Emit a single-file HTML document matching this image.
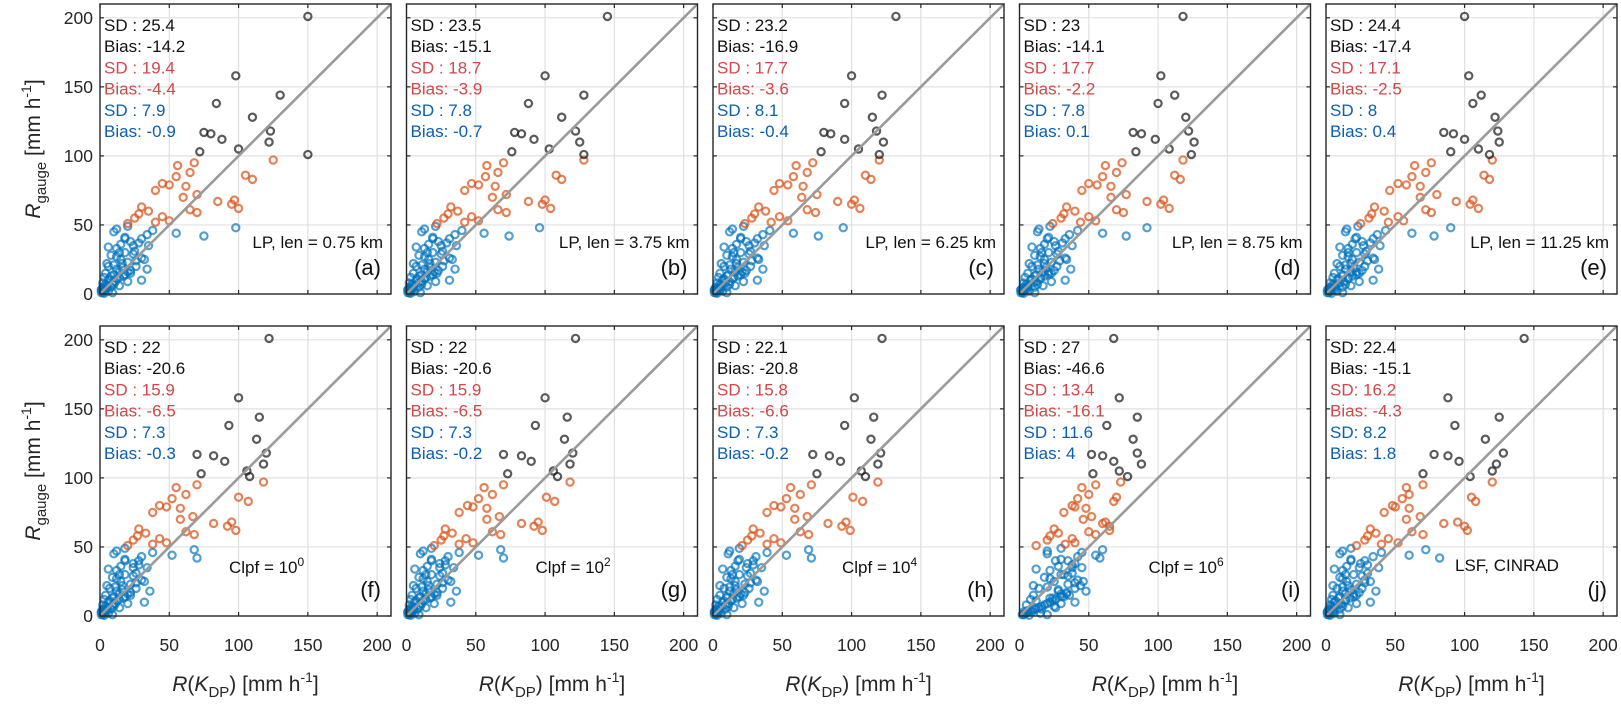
<!DOCTYPE html>
<html><head><meta charset="utf-8">
<style>
html,body{margin:0;padding:0;background:#fff;}
svg{display:block;font-family:"Liberation Sans",Arial,sans-serif;}
</style></head>
<body>
<svg id="fig" width="1621" height="705" viewBox="0 0 1621 705" xmlns="http://www.w3.org/2000/svg"></svg>
<script>
// ===== data =====
const tickValues = [0, 50, 100, 150, 200];
const panelLabels = ['(a)','(b)','(c)','(d)','(e)','(f)','(g)','(h)','(i)','(j)'];
const gaugeBlack = [201,158,144,138,128,117,116,112,110,105,103,101,118];
const gaugeOrange = [97,95,93,88,86,85,83,80,79,78,75,72,70,68,67,65,63,61,60,59,58,56,55,53,52,51,62];
const gaugeBlue = [49,48,46,44,42,40,38,36,35,33,31,30,28,26,25,23,21,20,18,16,15,13,12,10,8,7,5,4,3,2,45,41,37,34,29,27,24,22,19,17,14,11,9,6,5,3,2,1,1,0.5];
const gaugeBlueExtra = [4,6,8,10,12,14,16,18,20,22,3,5,7,9,11,13,2,1,15,25,30,35,40,43,47];

const xBlack = [
 [150,98,130,84,110,75,80,88,122,100,72,150,123],
 [145,100,128,88,112,78,83,92,125,103,76,128,122],
 [132,100,122,95,115,80,85,95,123,105,78,120,118],
 [118,102,112,100,120,82,88,98,126,108,84,124,122],
 [100,103,112,106,122,85,92,100,125,110,90,118,124],
 [122,100,115,93,113,70,82,90,118,106,73,108,120],
 [122,100,116,93,114,70,83,90,118,106,73,109,120],
 [122,102,116,95,114,72,84,92,119,107,75,110,121],
 [68,72,85,63,82,52,60,68,88,72,53,78,85],
 [143,88,125,93,115,78,88,96,123,120,70,104,128]
];
const xOrange = [
 [125,68,56,65,105,55,110,45,50,62,40,70,60,97,85,95,30,65,35,70,28,45,25,50,40,20,100],
 [128,70,58,66,108,57,112,47,52,64,42,72,62,100,88,98,32,66,37,72,30,47,27,52,42,22,104],
 [120,72,60,68,110,58,114,48,54,65,44,75,64,102,90,100,33,68,38,74,30,48,28,54,42,23,106],
 [118,74,62,70,112,60,116,50,56,66,45,77,66,104,92,102,34,70,40,75,32,50,30,55,44,24,108],
 [120,76,64,72,114,62,118,52,58,68,46,80,68,106,94,104,35,72,42,76,33,52,31,56,45,25,110],
 [118,70,55,62,100,52,107,43,48,58,38,67,58,95,82,92,28,62,33,68,27,43,24,48,38,20,98],
 [118,70,56,62,101,52,107,44,48,58,38,67,58,95,83,92,28,62,33,68,27,43,25,48,38,20,98],
 [119,71,56,63,101,53,108,44,49,59,39,68,59,96,83,93,29,63,34,69,28,44,25,49,39,21,99],
 [73,55,45,50,70,42,68,38,40,48,32,52,46,62,60,65,25,50,28,55,22,38,20,40,33,12,65],
 [120,70,58,60,105,55,108,48,50,60,42,68,58,95,85,100,32,62,36,70,30,45,28,52,40,22,102]
];
const xBlue = [
 [20,98,38,55,75,30,22,15,35,12,25,18,8,30,15,20,10,6,34,14,4,8,3,30,2,10,5,2,1,6,10,18,28,6,24,12,26,5,16,22,18,12,20,14,8,4,2,9,1,3],
 [21,96,40,56,74,31,23,16,36,13,26,19,9,31,16,21,11,7,35,15,5,9,3,31,2,11,5,2,1,6,11,19,29,7,25,13,27,5,17,23,19,13,21,15,9,4,2,10,1,3],
 [22,94,41,58,76,32,24,17,37,14,27,20,10,32,17,22,12,8,36,16,5,10,4,32,3,12,6,3,1,7,12,20,30,8,26,14,28,6,18,24,20,14,22,16,10,5,2,10,1,3],
 [22,92,42,60,77,33,25,18,38,15,28,21,11,33,18,23,13,9,37,17,6,11,4,33,3,13,6,3,1,7,13,21,31,9,27,15,29,7,19,25,21,15,23,17,11,5,2,11,1,3],
 [23,90,43,62,78,34,26,19,39,16,29,22,12,34,19,24,14,10,38,18,6,12,5,34,3,14,7,3,1,8,14,22,32,10,28,16,30,8,20,26,22,16,24,18,12,6,3,12,1,4],
 [18,68,38,52,70,28,24,15,34,12,26,18,9,30,15,22,11,7,36,14,4,9,3,32,2,10,5,2,1,6,10,18,28,6,24,12,26,5,16,22,18,12,20,14,8,4,2,9,1,3],
 [18,68,38,52,70,28,24,15,34,12,26,18,9,30,15,22,11,7,36,14,4,9,3,32,2,10,5,2,1,6,10,18,28,6,24,12,26,5,16,22,18,12,20,14,8,4,2,9,1,3],
 [19,69,39,53,71,29,25,16,35,13,27,19,10,31,16,23,12,8,37,15,5,10,3,33,2,11,5,2,1,6,11,19,29,7,25,13,27,5,17,23,19,13,21,15,9,4,2,10,1,3],
 [30,60,45,55,58,35,40,28,45,22,38,30,18,42,25,35,20,14,48,30,10,22,8,40,5,25,12,6,3,15,20,30,38,12,35,22,40,10,28,34,32,24,30,26,16,9,5,20,2,7],
 [18,72,40,60,82,28,25,15,38,12,30,20,10,28,15,22,12,8,36,14,5,9,4,32,3,12,6,3,1,6,10,18,30,6,26,12,28,5,18,24,20,14,22,16,10,5,2,10,1,3]
];
const xBlueExtra = [
 [3,5,9,6,14,10,20,12,26,16,1,2,4,11,7,17,3,2,22,32,14,24,18,34,12],
 [3,5,9,7,14,11,20,13,26,17,1,2,4,11,8,17,3,2,22,33,15,25,19,35,13],
 [4,6,9,7,15,11,21,13,27,17,1,2,5,12,8,18,3,2,23,33,15,26,20,36,14],
 [4,6,10,8,15,12,21,14,27,18,1,3,5,12,9,18,3,2,23,34,16,26,20,36,14],
 [4,6,10,8,16,12,22,14,28,18,2,3,5,13,9,19,3,2,24,35,16,27,21,37,15],
 [3,5,9,6,14,10,20,12,26,16,1,2,4,11,7,17,3,2,22,32,14,24,18,30,12],
 [3,5,9,6,14,10,20,12,26,16,1,2,4,11,7,17,3,2,22,32,14,24,18,30,12],
 [3,5,9,7,14,10,20,12,26,16,1,2,4,11,8,17,3,2,22,32,14,24,18,31,12],
 [8,14,18,22,26,30,34,28,40,44,6,10,16,20,12,24,4,3,36,46,32,38,26,42,20],
 [3,5,9,6,14,10,20,12,26,16,1,2,4,11,7,17,3,2,22,32,14,24,18,34,12]
];
const statsSD = [
 ['25.4','19.4','7.9'],['23.5','18.7','7.8'],['23.2','17.7','8.1'],['23','17.7','7.8'],['24.4','17.1','8'],
 ['22','15.9','7.3'],['22','15.9','7.3'],['22.1','15.8','7.3'],['27','13.4','11.6'],['22.4','16.2','8.2']
];
const statsBias = [
 ['-14.2','-4.4','-0.9'],['-15.1','-3.9','-0.7'],['-16.9','-3.6','-0.4'],['-14.1','-2.2','0.1'],['-17.4','-2.5','0.4'],
 ['-20.6','-6.5','-0.3'],['-20.6','-6.5','-0.2'],['-20.8','-6.6','-0.2'],['-46.6','-16.1','4'],['-15.1','-4.3','1.8']
];
const methodText = ['LP, len = 0.75 km','LP, len = 3.75 km','LP, len = 6.25 km','LP, len = 8.75 km','LP, len = 11.25 km'];
const clpfExp = ['0','2','4','6'];

// ===== layout =====
const NS = 'http://www.w3.org/2000/svg';
const svg = document.getElementById('fig');
const lefts = [100, 406.5, 713, 1019.5, 1326];
const tops = [4, 326];
const W = 291, H = 290, MAXV = 210;
function mk(tag, attrs, parent) {
  const e = document.createElementNS(NS, tag);
  for (const k in attrs) e.setAttribute(k, attrs[k]);
  (parent || svg).appendChild(e);
  return e;
}
const statColors = ['#111111', '#d1474a', '#0b5fb0'];
const ptColors = ['rgba(35,35,35,0.75)', 'rgba(217,83,25,0.72)', 'rgba(0,114,189,0.68)'];

for (let p = 0; p < 10; p++) {
  const row = Math.floor(p / 5), col = p % 5;
  const L = lefts[col], T = tops[row];
  const sx = v => L + v / MAXV * W;
  const sy = v => T + H - v / MAXV * H;
  const g = mk('g', {});
  
  

  tickValues.forEach(t => {
    if (t === 0) return;
    const gx = mk('line', {x1: sx(t), x2: sx(t), y1: T, y2: T + H, stroke: '#e0e0e0', 'stroke-width': 1.2}, g);
    
    
    const gy = mk('line', {x1: L, x2: L + W, y1: sy(t), y2: sy(t), stroke: '#e0e0e0', 'stroke-width': 1.2}, g);
    
    
  });

  const sets = [[xBlueExtra[p], gaugeBlueExtra, 2], [xBlue[p], gaugeBlue, 2], [xOrange[p], gaugeOrange, 1], [xBlack[p], gaugeBlack, 0]];
  sets.forEach(([xs, ys, ci]) => {
    xs.forEach((xv, i) => {
      const c = mk('circle', {cx: sx(xv), cy: sy(ys[i]), r: 3.6, fill: 'none', stroke: ptColors[ci], 'stroke-width': 2.2}, g);
      
      
    });
  });

  const d = mk('line', {x1: sx(0), y1: sy(0), x2: sx(MAXV), y2: sy(MAXV), stroke: '#9a9a9a', 'stroke-width': 2.6}, g);
  
  

  const b = mk('rect', {x: L, y: T, width: W, height: H, fill: 'none', stroke: '#262626', 'stroke-width': 1.4}, g);
  
  

  tickValues.forEach(t => {
    const segs = [[sx(t), T + H, sx(t), T + H - 4], [sx(t), T, sx(t), T + 4], [L, sy(t), L + 4, sy(t)], [L + W, sy(t), L + W - 4, sy(t)]];
    segs.forEach(s => {
      const tk = mk('line', {x1: s[0], y1: s[1], x2: s[2], y2: s[3], stroke: '#262626', 'stroke-width': 1.2}, g);
      
      
    });
    if (col === 0) {
      const yl = mk('text', {x: L - 7, y: sy(t) + 6, 'text-anchor': 'end', 'font-size': 17.5, fill: '#262626'}, g);
      yl.textContent = t;
      
      
    }
    if (row === 1) {
      const xl = mk('text', {x: sx(t), y: T + H + 35, 'text-anchor': 'middle', 'font-size': 17.5, fill: '#262626'}, g);
      xl.textContent = t;
      
      
    }
  });

  const sep = p === 9 ? ': ' : ' : ';
  for (let k = 0; k < 3; k++) {
    const t1 = mk('text', {x: L + 4, y: T + 27 + k * 42.5, 'font-size': 17, fill: statColors[k]}, g);
    t1.textContent = 'SD' + sep + statsSD[p][k];
    
    
    const t2 = mk('text', {x: L + 4, y: T + 48 + k * 42.5, 'font-size': 17, fill: statColors[k]}, g);
    t2.textContent = 'Bias: ' + statsBias[p][k];
    
    
  }

  if (row === 0) {
    const m = mk('text', {x: L + W - 8, y: T + 244, 'text-anchor': 'end', 'font-size': 17, fill: '#111'}, g);
    m.textContent = methodText[col];
    
    
  } else if (col < 4) {
    const m = mk('text', {x: L + 129, y: T + 247, 'font-size': 17, fill: '#111'}, g);
    m.textContent = 'Clpf = 10';
    const sup = mk('tspan', {dy: -7, 'font-size': 12}, m);
    sup.textContent = clpfExp[col];
    
    
  } else {
    const m = mk('text', {x: L + 129, y: T + 245, 'font-size': 17, fill: '#111'}, g);
    m.textContent = 'LSF, CINRAD';
    
    
  }

  const pl = mk('text', {x: L + W - 10, y: T + 271, 'text-anchor': 'end', 'font-size': 22, fill: '#111'}, g);
  pl.textContent = panelLabels[p];
  
  

  if (row === 1) {
    const xt = mk('text', {x: L + W / 2, y: T + H + 75, 'text-anchor': 'middle', 'font-size': 21, fill: '#262626'}, g);
    xt.innerHTML = '<tspan font-style="italic">R</tspan>(<tspan font-style="italic">K</tspan><tspan font-size="15" dy="6">DP</tspan><tspan dy="-6">) [mm h</tspan><tspan font-size="14" dy="-9">-1</tspan><tspan dy="9">]</tspan>';
    
    
  }
  if (col === 0) {
    const cy = T + H / 2, cx = 40;
    const yt = mk('text', {x: cx, y: cy, 'text-anchor': 'middle', 'font-size': 21, fill: '#262626', transform: 'rotate(-90 ' + cx + ' ' + cy + ')'}, g);
    yt.innerHTML = '<tspan font-style="italic">R</tspan><tspan font-size="15" dy="6">gauge</tspan><tspan dy="-6"> [mm h</tspan><tspan font-size="14" dy="-9">-1</tspan><tspan dy="9">]</tspan>';
    
    
  }
}
</script>
</body></html>
